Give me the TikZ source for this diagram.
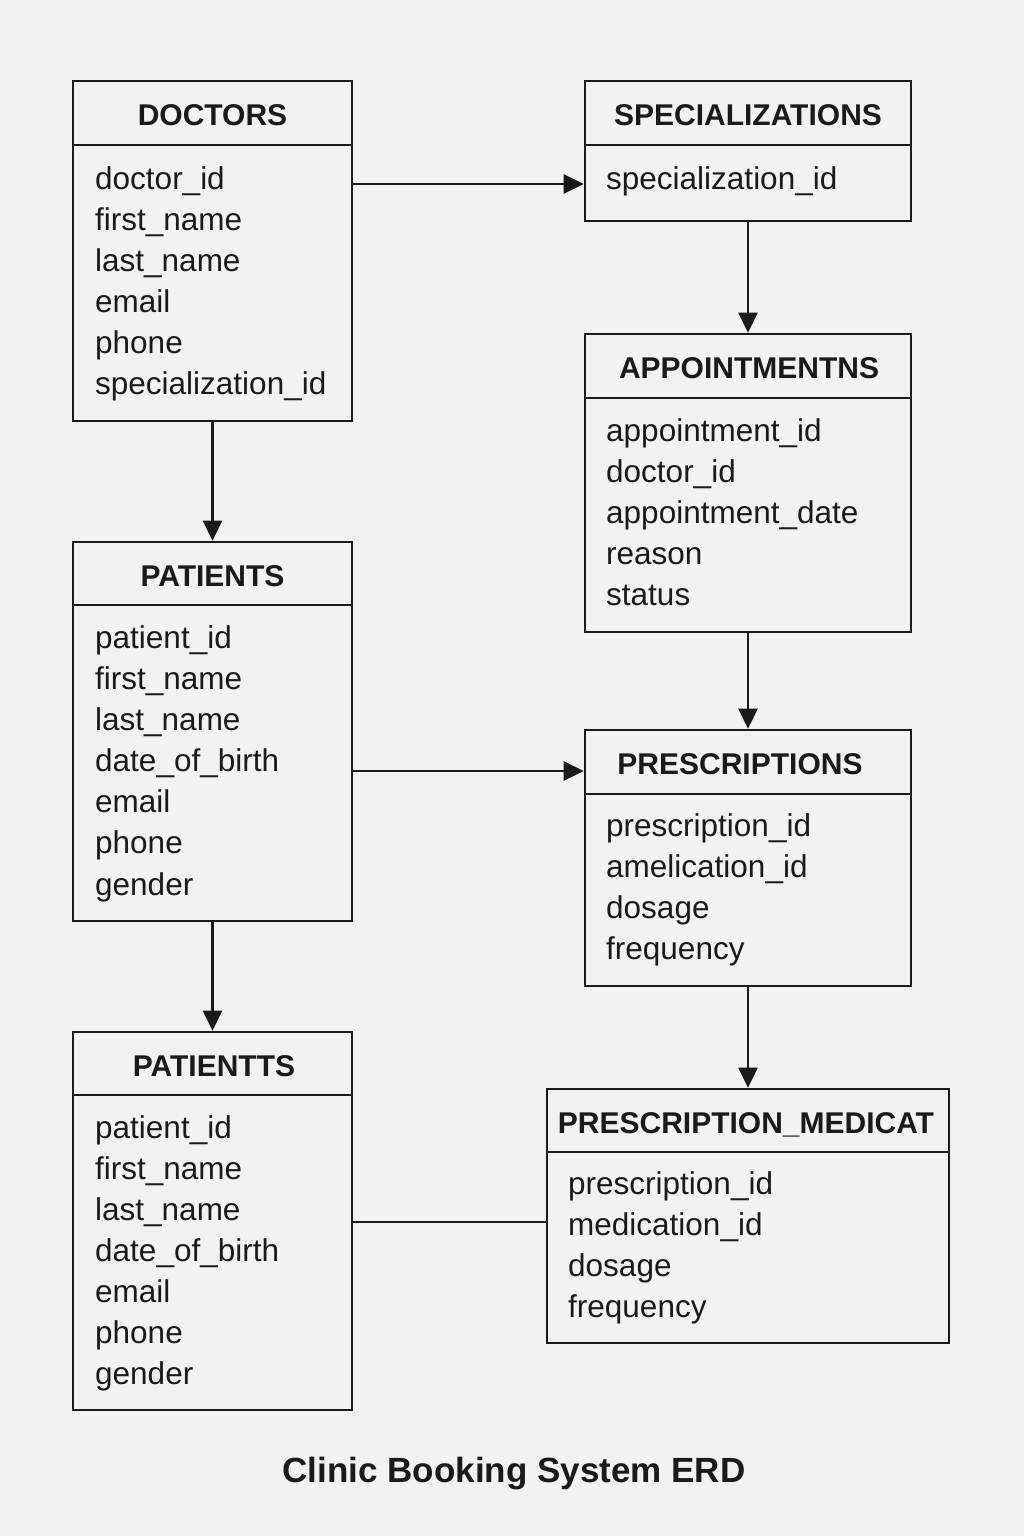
\documentclass[tikz,border=0pt]{standalone}
\usepackage{fontspec}
\setmainfont{Liberation Sans}
\usetikzlibrary{arrows.meta}
\definecolor{bg}{HTML}{F2F2F2}
\definecolor{ink}{HTML}{1A1A1A}
\tikzset{
  ebox/.style={draw=ink, line width=2.6pt, fill=bg, rectangle, inner sep=0pt},
  hdr/.style={anchor=base, inner sep=0pt, text=ink, font=\fontsize{30}{35}\selectfont\bfseries},
  fld/.style={anchor=base west, inner sep=0pt, text=ink, font=\fontsize{31.5}{37}\selectfont},
  divline/.style={draw=ink, line width=2.6pt},
  arr/.style={draw=ink, line width=2.6pt, -{Triangle[length=20pt,width=19pt]}},
  link/.style={draw=ink, line width=2.6pt}
}
\begin{document}
\begin{tikzpicture}[x=1pt,y=-1pt]
\fill[bg] (0,0) rectangle (1024,1536);
\useasboundingbox (0,0) rectangle (1024,1536);

% boxes
\node[ebox, minimum width=279pt, minimum height=340pt] (doctors) at (212.5,251) {};
\node[ebox, minimum width=326pt, minimum height=140pt] (spec) at (748,151) {};
\node[ebox, minimum width=326pt, minimum height=298pt] (appt) at (748,483) {};
\node[ebox, minimum width=279pt, minimum height=379pt] (patients) at (212.5,731.5) {};
\node[ebox, minimum width=326pt, minimum height=256pt] (presc) at (748,858) {};
\node[ebox, minimum width=279pt, minimum height=378pt] (patientts) at (212.5,1221) {};
\node[ebox, minimum width=402pt, minimum height=254pt] (pm) at (748,1216) {};

% header dividers
\draw[divline] (doctors.west |- 0,145) -- (doctors.east |- 0,145);
\draw[divline] (spec.west |- 0,145) -- (spec.east |- 0,145);
\draw[divline] (appt.west |- 0,398) -- (appt.east |- 0,398);
\draw[divline] (patients.west |- 0,605) -- (patients.east |- 0,605);
\draw[divline] (presc.west |- 0,794) -- (presc.east |- 0,794);
\draw[divline] (patientts.west |- 0,1095) -- (patientts.east |- 0,1095);
\draw[divline] (pm.west |- 0,1152) -- (pm.east |- 0,1152);

% headers
\node[hdr] (hdoc) at (212.5,125) {DOCTORS};
\node[hdr] (hspec) at (748,125) {SPECIALIZATIONS};
\node[hdr] (happt) at (749,378) {APPOINTMENTNS};
\node[hdr] (hpat) at (212.5,586) {PATIENTS};
\node[hdr] (hpre) at (740,774) {PRESCRIPTIONS};
\node[hdr] (hpatt) at (214,1076) {PATIENTTS};
\node[hdr] (hpm) at (746,1133) {PRESCRIPTION\_MEDICAT};

% fields
\foreach \t [count=\i] in {doctor\_id,first\_name,last\_name,email,phone,specialization\_id}
  \node[fld] (fd\i) at (95,{189+41*(\i-1)}) {\t};
\node[fld] (fs1) at (606,189) {specialization\_id};
\foreach \t [count=\i] in {appointment\_id,doctor\_id,appointment\_date,reason,status}
  \node[fld] (fa\i) at (606,{441+41.2*(\i-1)}) {\t};
\foreach \t [count=\i] in {patient\_id,first\_name,last\_name,date\_of\_birth,email,phone,gender}
  \node[fld] (fp\i) at (95,{648+41.17*(\i-1)}) {\t};
\foreach \t [count=\i] in {prescription\_id,amelication\_id,dosage,frequency}
  \node[fld] (fr\i) at (606,{836+41*(\i-1)}) {\t};
\foreach \t [count=\i] in {patient\_id,first\_name,last\_name,date\_of\_birth,email,phone,gender}
  \node[fld] (fq\i) at (95,{1138+41*(\i-1)}) {\t};
\foreach \t [count=\i] in {prescription\_id,medication\_id,dosage,frequency}
  \node[fld] (fm\i) at (568,{1194+41*(\i-1)}) {\t};

% connectors
\draw[arr] (doctors.east |- 0,184) -- (spec.west |- 0,184);
\draw[arr] (doctors.south) -- (patients.north);
\draw[arr] (spec.south) -- (appt.north);
\draw[arr] (appt.south) -- (presc.north);
\draw[arr] (patients.east |- 0,771) -- (presc.west |- 0,771);
\draw[arr] (patients.south) -- (patientts.north);
\draw[arr] (presc.south) -- (pm.north);
\draw[link] (patientts.east |- 0,1222) -- (pm.west |- 0,1222);

% title
\node[anchor=base, inner sep=0pt, text=ink, font=\fontsize{35}{42}\selectfont\bfseries] (title) at (514,1482) {Clinic Booking System ERD};
\end{tikzpicture}
\end{document}
